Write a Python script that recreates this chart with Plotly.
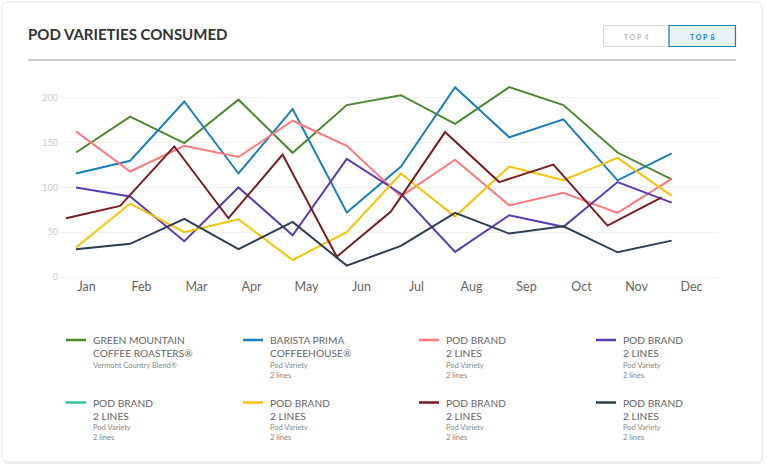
import plotly.graph_objects as go

# ---------------- data ----------------
months = ["Jan", "Feb", "Mar", "Apr", "May", "Jun", "Jul", "Aug", "Sep", "Oct", "Nov", "Dec"]
y_ticks = [0, 50, 100, 150, 200]

green_mountain = [139, 179, 149.5, 198, 138.7, 192, 203, 171, 212, 192, 139, 109]
barista_prima = [115.6, 129.8, 196, 115.6, 187.5, 72, 123.4, 212, 156, 176, 108, 138]
pod_pink = [162.6, 117.8, 146.5, 134, 174.5, 146.5, 90, 131, 80, 94, 71.6, 109.6]
pod_purple = [100, 90, 40, 100, 46.6, 132, 93, 28, 69, 56, 106, 83]
pod_teal = []  # listed in the legend, no line drawn
pod_yellow = [33, 82, 50, 64.5, 19, 50, 115.6, 67.5, 123.4, 108, 133, 90.6]
pod_maroon = [65.6, 79.4, 145.8, 65.6, 136.8, 22.7, 73, 161.8, 106, 125.6, 57.4, 89]
pod_navy = [31, 37, 65, 31, 61.5, 12.7, 34.7, 71.6, 48.5, 56.7, 27.6, 40.6]

series_values = [green_mountain, barista_prima, pod_pink, pod_purple,
                 pod_teal, pod_yellow, pod_maroon, pod_navy]
series_titles = [
    ["GREEN MOUNTAIN", "COFFEE ROASTERS®"],
    ["BARISTA PRIMA", "COFFEEHOUSE®"],
    ["POD BRAND", "2 LINES"],
    ["POD BRAND", "2 LINES"],
    ["POD BRAND", "2 LINES"],
    ["POD BRAND", "2 LINES"],
    ["POD BRAND", "2 LINES"],
    ["POD BRAND", "2 LINES"],
]
series_subtitles = [
    ["Vermont Country Blend®"],
    ["Pod Variety", "2 lines"],
    ["Pod Variety", "2 lines"],
    ["Pod Variety", "2 lines"],
    ["Pod Variety", "2 lines"],
    ["Pod Variety", "2 lines"],
    ["Pod Variety", "2 lines"],
    ["Pod Variety", "2 lines"],
]

# ---------------- style ----------------
colors = ["#4b8a2c", "#1a80bb", "#ff7a78", "#5b3db3", "#2ec4a0", "#f7c300", "#7a1b1f", "#2c3e50"]
x_shift = [0, 0, 0, 0, 0, 0, -0.185, 0]

W, H = 767, 468
L, R, T, B = 59, 719, 80, 277
FONT = "Lato"


def px(x):
    return (x - L) / (R - L)


def py(y):
    return (B - y) / (B - T)


fig = go.Figure()

for i, vals in enumerate(series_values):
    fig.add_trace(go.Scatter(
        x=[k + x_shift[i] for k in range(len(vals))],
        y=vals,
        mode="lines",
        line=dict(color=colors[i], width=2),
        name=series_titles[i][0],
        showlegend=False,
        hoverinfo="skip",
    ))

# invisible trace that carries the month axis
fig.add_trace(go.Scatter(x=list(range(len(months))), y=[None] * len(months),
                         xaxis="x2", mode="lines", showlegend=False, hoverinfo="skip"))

step = (671.7 - 76) / 11.0
x0 = (L - 76) / step
x1 = (R - 76) / step

shapes = []
annotations = []

# card
r = 6
cx0, cy0, cx1, cy1 = 2, 2, 762, 462


def rrect(a, b, c, d, rr):
    pts = [(a + rr, b), (c - rr, b), (c, b + rr), (c, d - rr), (c - rr, d), (a + rr, d), (a, d - rr), (a, b + rr)]
    P = [(px(x), py(y)) for x, y in pts]
    path = (f"M {P[0][0]},{P[0][1]} L {P[1][0]},{P[1][1]} "
            f"Q {px(c)},{py(b)} {P[2][0]},{P[2][1]} L {P[3][0]},{P[3][1]} "
            f"Q {px(c)},{py(d)} {P[4][0]},{P[4][1]} L {P[5][0]},{P[5][1]} "
            f"Q {px(a)},{py(d)} {P[6][0]},{P[6][1]} L {P[7][0]},{P[7][1]} "
            f"Q {px(a)},{py(b)} {P[0][0]},{P[0][1]} Z")
    return path


shapes.append(dict(type="path", path=rrect(cx0 + 1, cy0 + 2, cx1 + 1, cy1 + 2, r), xref="paper", yref="paper",
                   fillcolor="#ececec", line=dict(width=0), layer="below"))
shapes.append(dict(type="path", path=rrect(cx0, cy0, cx1, cy1, r), xref="paper", yref="paper",
                   fillcolor="#ffffff", line=dict(color="#e6e6e6", width=1), layer="below"))


def note(text, x, y, size, color, xanchor="left", yanchor="middle"):
    annotations.append(dict(text=text, x=px(x), y=py(y), xref="paper", yref="paper",
                            xanchor=xanchor, yanchor=yanchor, showarrow=False, borderpad=0,
                            align="left", font=dict(family=FONT, size=size, color=color)))


# title + underline
note("<b>POD VARIETIES CONSUMED</b>", 27, 34, 15, "#333333")
shapes.append(dict(type="line", x0=px(28), x1=px(736), y0=py(60), y1=py(60), xref="paper", yref="paper",
                   line=dict(color="#9a9a9a", width=1.2)))

# buttons
shapes.append(dict(type="rect", x0=px(603.5), x1=px(669), y0=py(25.5), y1=py(46.5), xref="paper", yref="paper",
                   fillcolor="#ffffff", line=dict(color="#dddddd", width=1)))
shapes.append(dict(type="rect", x0=px(669), x1=px(735.5), y0=py(25.5), y1=py(46.5), xref="paper", yref="paper",
                   fillcolor="#e8f2f7", line=dict(color="#1a80bb", width=1.2)))
note("<b>T O P  4</b>", 636, 36.5, 7, "#bbbbbb", xanchor="center")
note("<b>T O P  8</b>", 702.5, 36.5, 7, "#1a80bb", xanchor="center")

# legend
col_line_x = [66, 243, 419, 596]
row_y = [340, 402.5]
for i in range(len(series_values)):
    row, col = divmod(i, 4)
    lx = col_line_x[col]
    ly = row_y[row]
    shapes.append(dict(type="line", x0=px(lx), x1=px(lx + 20), y0=py(ly), y1=py(ly), xref="paper", yref="paper",
                       line=dict(color=colors[i], width=2.5)))
    tx = lx + 25.5
    note("<br>".join(series_titles[i]), tx, ly - 7, 10.2, "#666666", yanchor="top")
    note("<br>".join(series_subtitles[i]), tx, ly + 19.5, 7.5, "#888888", yanchor="top")

fig.update_layout(
    width=W, height=H,
    margin=dict(l=L, r=W - R, t=T, b=H - B, pad=0),
    paper_bgcolor="#ffffff", plot_bgcolor="rgba(0,0,0,0)",
    xaxis=dict(range=[x0, x1], showticklabels=False, showgrid=False, zeroline=False, fixedrange=True),
    xaxis2=dict(range=[-0.5, len(months) - 0.5], overlaying="x", side="bottom", anchor="y",
                tickvals=list(range(len(months))), ticktext=months, showgrid=False, zeroline=False,
                tickfont=dict(family=FONT, size=12.5, color="#666666"), ticks="", ticklen=0),
    yaxis=dict(range=[0, 220], tickvals=y_ticks, showgrid=True, gridcolor="#f0f0f0", gridwidth=1,
               zeroline=True, zerolinecolor="#f0f0f0", zerolinewidth=1,
               tickfont=dict(family=FONT, size=9, color="#c8c8c8"), ticks="", fixedrange=True),
    shapes=shapes, annotations=annotations,
    showlegend=False,
)

fig.write_html("out.html")
